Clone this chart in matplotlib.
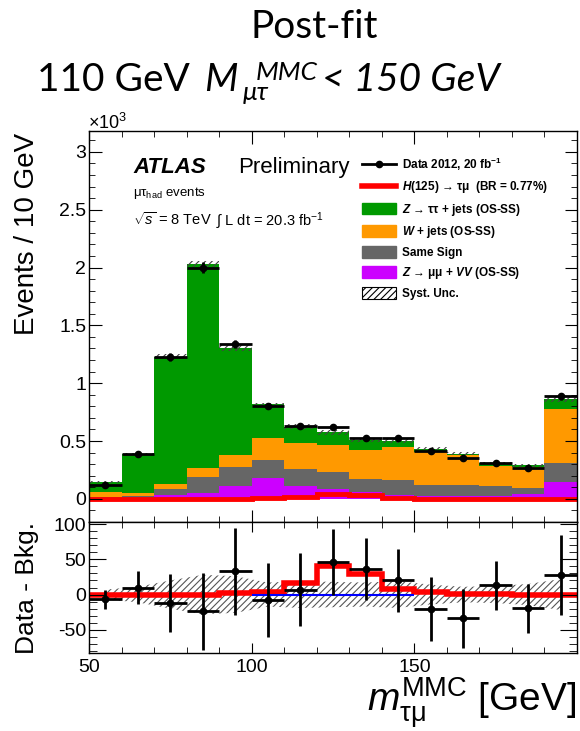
import numpy as np
import matplotlib
matplotlib.use('Agg')
import matplotlib.pyplot as plt
from matplotlib.patches import Patch
from matplotlib.lines import Line2D
from matplotlib.ticker import MultipleLocator, FixedLocator, FuncFormatter

plt.rcParams['font.family'] = ['Liberation Sans', 'DejaVu Sans']
plt.rcParams['mathtext.fontset'] = 'custom'
plt.rcParams['mathtext.rm'] = 'Liberation Sans'
plt.rcParams['mathtext.it'] = 'Liberation Sans:italic'
plt.rcParams['mathtext.bf'] = 'Liberation Sans:bold'
plt.rcParams['mathtext.bfit'] = 'Liberation Sans:bold:italic'
plt.rcParams['axes.unicode_minus'] = False
plt.rcParams['hatch.linewidth'] = 0.8

# m_tautau^MMC bins (GeV)
edges = np.arange(50, 201, 10)
centers = edges[:-1] + 5

# post-fit yields per bin (events)
z_mumu_vv = [3, 3, 30, 52, 112, 182, 107, 84, 60, 30, 25, 25, 25, 46, 144]
same_sign = [17, 22, 54, 135, 162, 150, 151, 150, 116, 131, 99, 93, 85, 52, 170]
w_jets = [38, 27, 43, 81, 107, 190, 226, 230, 245, 289, 283, 260, 173, 179, 467]
z_tautau = [86, 337, 1101, 1762, 925, 294, 141, 110, 84, 50, 28, 14, 23, 13, 81]
data = [124, 389, 1223, 2000, 1338, 802, 634, 620, 522, 522, 412, 349, 306, 268, 888]
signal = [0, 0, 0, 0, 1.5, 3.8, 16.8, 40, 29.7, 8, 3, 1.4, 0.5, 0, 0]
syst = [7, 11, 20, 28, 26, 17, 19, 18, 17, 19, 14, 11, 12, 15, 22]

# data - background
diff = [-7, 10, -11.5, -24, 33, -7.7, 6.7, 46.5, 36, 20, -20.6, -33.5, 13, -19.6, 27.3]
diff_err = [14, 24, 41, 55, 62, 53, 52, 47, 44, 45, 45, 42, 35, 35, 57]

W, H = 580, 731


def fx(x):
    return x / W


def fy(y):
    return 1 - y / H


fig = plt.figure(figsize=(W / 100, H / 100), dpi=100)
ax = fig.add_axes([fx(89), fy(522), 488 / W, 391 / H])
ax2 = fig.add_axes([fx(89), fy(653), 488 / W, 131 / H], sharex=ax)

# stacked backgrounds
bottom = np.zeros(len(centers))
for vals, col in [(z_mumu_vv, '#cc00ff'), (same_sign, '#666666'),
                  (w_jets, '#ff9900'), (z_tautau, '#009900')]:
    v = np.array(vals) / 1000.0
    ax.bar(edges[:-1], v, width=10, bottom=bottom, align='edge', color=col, lw=0)
    bottom = bottom + v
s = np.array(syst) / 1000.0
ax.bar(edges[:-1], 2 * s, width=10, bottom=bottom - s, align='edge',
       facecolor='none', edgecolor='#444444', hatch='/////', lw=0)
ax.stairs(np.array(signal) / 1000.0, edges, color='red', lw=3.5)
d = np.array(data)
ax.errorbar(centers, d / 1000.0, xerr=5, yerr=np.sqrt(d) / 1000.0, fmt='o',
            color='k', ms=4.5, lw=2, capsize=0)

ax.set_xlim(50, 200)
ax.set_ylim(-0.2, 3.18)
ax.yaxis.set_major_locator(MultipleLocator(0.5))
ax.yaxis.set_minor_locator(MultipleLocator(0.1))
ax.yaxis.set_major_formatter(FuncFormatter(lambda v, p: '%g' % v))
ax.xaxis.set_major_locator(FixedLocator([50, 100, 150]))
ax.xaxis.set_minor_locator(MultipleLocator(10))
ax.tick_params(which='both', direction='in', top=True, right=True, labelbottom=False,
               labelsize=14, pad=2)
ax.tick_params(which='major', length=9)
ax.tick_params(which='minor', length=4.5)

# data - background panel
ax2.fill_between(centers, -np.array(syst), np.array(syst), facecolor='none',
                 edgecolor='#555555', hatch='/////', lw=0)
ax2.hlines(0, 100, 150, color='blue', lw=1.5)
ax2.stairs(signal, edges, color='red', lw=4)
ax2.errorbar(centers, diff, xerr=5, yerr=diff_err, fmt='o', color='k', ms=4.5,
             lw=2, capsize=0)
ax2.set_ylim(-83, 103)
ax2.yaxis.set_major_locator(MultipleLocator(50))
ax2.yaxis.set_minor_locator(MultipleLocator(10))
ax2.tick_params(which='both', direction='in', top=True, right=True, labelsize=14, pad=2)
ax2.tick_params(axis='x', which='both', pad=4)
ax2.tick_params(axis='y', which='major', length=12)
ax2.tick_params(axis='y', which='minor', length=6)
ax2.tick_params(axis='x', which='major', length=7)
ax2.tick_params(axis='x', which='minor', length=4)

for a in (ax, ax2):
    for sp in a.spines.values():
        sp.set_linewidth(1)

# axis titles
fig.text(fx(88), fy(129), '×10$^{3}$', fontsize=13, ha='left', va='baseline')
fig.text(fx(27), fy(133), 'Events / 10 GeV', rotation=90, ha='center', va='top', fontsize=20)
fig.text(fx(27), fy(588), 'Data - Bkg.', rotation=90, ha='center', va='center', fontsize=19)
fig.text(fx(577), fy(712), r'$m_{\mathrm{τμ}}^{\mathrm{MMC}}$ [GeV]', ha='right',
         va='baseline', fontsize=28)

# ATLAS labels
fig.text(fx(133), fy(173), 'ATLAS', fontsize=16, weight='bold', style='italic')
fig.text(fx(238), fy(173), 'Preliminary', fontsize=16)
fig.text(fx(133), fy(196), r'μτ$_{\mathrm{had}}$ events', fontsize=9.5)
fig.text(fx(133), fy(225), r'$\sqrt{s}$ = 8 TeV', fontsize=10.5)
fig.text(fx(216), fy(225), r'∫ L dt = 20.3 fb$^{-1}$', fontsize=10.5)

# legend
handles = [
    Line2D([], [], color='k', marker='o', ms=4.5, lw=2),
    Line2D([], [], color='red', lw=4),
    Patch(facecolor='#009900', edgecolor='#009900'),
    Patch(facecolor='#ff9900', edgecolor='#ff9900'),
    Patch(facecolor='#666666', edgecolor='#666666'),
    Patch(facecolor='#cc00ff', edgecolor='#cc00ff'),
    Patch(facecolor='white', edgecolor='k', hatch='/////', lw=0.8),
]
labels = [
    r'Data 2012, 20 fb$^{\mathbf{-1}}$',
    r'$\mathbfit{H}$(125) → τμ  (BR = 0.77%)',
    r'$\mathbfit{Z}$ → ττ + jets (OS-SS)',
    r'$\mathbfit{W}$ + jets (OS-SS)',
    'Same Sign',
    r'$\mathbfit{Z}$ → μμ + $\mathbfit{VV}$ (OS-SS)',
    'Syst. Unc.',
]
fig.legend(handles, labels, loc='upper left', bbox_to_anchor=(fx(362), fy(156)),
           bbox_transform=fig.transFigure, frameon=False,
           prop={'size': 8.5, 'weight': 'bold'}, handlelength=2.88, handleheight=1.1,
           handletextpad=0.5, labelspacing=0.53, borderpad=0, borderaxespad=0)

# slide title
tf = ['Lato', 'DejaVu Sans']
fig.text(fx(314), fy(38), 'Post-fit', fontsize=28, family=tf, ha='center', va='baseline')
fig.text(fx(37), fy(91), '110 GeV', fontsize=28, family=tf, va='baseline')
fig.text(fx(204), fy(91), 'M', fontsize=28, family=tf, style='italic', va='baseline')
fig.text(fx(243), fy(100), 'μτ', fontsize=19, family=tf, style='italic', va='baseline')
fig.text(fx(256), fy(80), 'MMC', fontsize=19, family=tf, style='italic', va='baseline')
fig.text(fx(322), fy(91), '< 150 GeV', fontsize=28, family=tf, style='italic', va='baseline')

fig.savefig('out.png', dpi=100)
